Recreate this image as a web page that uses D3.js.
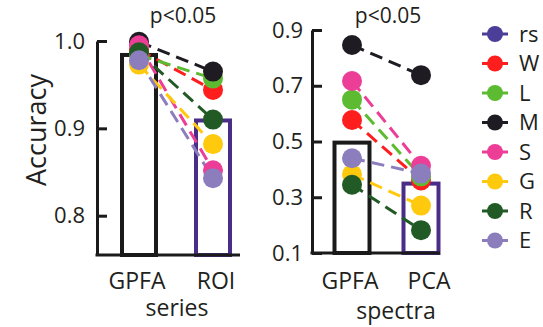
<!DOCTYPE html>
<html>
<head>
<meta charset="utf-8">
<script src="https://cdn.jsdelivr.net/npm/d3@7"></script>
<style>
  body { margin: 0; background: #fff; }
  text { font-family: "Open Sans", "DejaVu Sans", sans-serif; fill: #231f20; }
</style>
</head>
<body>
<div id="chart"></div>
<script>
// subjects, in legend order
var subjects = ['rs', 'W', 'L', 'M', 'S', 'G', 'R', 'E'];
var subjectColors = ['#4a3e98', '#ff1e1e', '#5cbb30', '#1f1b22', '#ec3d97', '#ffc90d', '#225a26', '#8c7ebd'];

// panel 1: series
var seriesMethods = ['GPFA', 'ROI'];
var seriesBars = [0.984, 0.909];
// per subject [GPFA, ROI]; rs not visible
var seriesValues = {
    W: [0.990, 0.944],
    L: [0.984, 0.957],
    M: [0.999, 0.965],
    S: [0.995, 0.852],
    G: [0.973, 0.882],
    R: [0.987, 0.910],
    E: [0.978, 0.843]
};
var seriesTicks = [0.8, 0.9, 1.0];

// panel 2: spectra
var spectraMethods = ['GPFA', 'PCA'];
var spectraBars = [0.496, 0.349];
var spectraValues = {
    W: [0.577, 0.360],
    L: [0.650, 0.375],
    M: [0.846, 0.738],
    S: [0.717, 0.413],
    G: [0.382, 0.270],
    R: [0.345, 0.182],
    E: [0.440, 0.385]
};
var spectraTicks = [0.1, 0.3, 0.5, 0.7, 0.9];

var barColors = ['#1a1a1a', '#4a2d87'];

var svg = d3.select('#chart').append('svg')
    .attr('width', 543)
    .attr('height', 327);

var color = d3.scaleOrdinal().domain(subjects).range(subjectColors);

function drawPanel(cfg) {

    var g = svg.append('g');

    var x = d3.scalePoint().domain(cfg.methods).range(cfg.xRange);
    var y = d3.scaleLinear().domain(cfg.domain).range(cfg.yRange);

    // bars
    g.selectAll('.bar').data(cfg.bars).enter().append('rect')
        .attr('x', function (d, i) { return x(cfg.methods[i]) - cfg.barWidth / 2; })
        .attr('y', function (d) { return y(d); })
        .attr('width', cfg.barWidth)
        .attr('height', function (d) { return cfg.yRange[0] - y(d); })
        .attr('fill', 'none')
        .attr('stroke', function (d, i) { return barColors[i]; })
        .attr('stroke-width', 4);

    // axis, ticks pointing inward
    var axis = d3.axisLeft(y)
        .tickValues(cfg.ticks)
        .tickFormat(d3.format('.1f'))
        .tickSizeInner(-10)
        .tickSizeOuter(0)
        .tickPadding(cfg.tickPad);

    var ax = g.append('g')
        .attr('transform', 'translate(' + cfg.axisX + ',0)')
        .call(axis);
    ax.selectAll('path, line').attr('stroke', '#1a1a1a').attr('stroke-width', 3);
    ax.selectAll('text')
        .style('font-size', '22px')
        .style('font-family', '"Open Sans", sans-serif')
        .attr('fill', '#231f20');

    // baseline
    g.append('line')
        .attr('x1', cfg.axisX - 1.5)
        .attr('x2', cfg.baseEnd)
        .attr('y1', cfg.yRange[0])
        .attr('y2', cfg.yRange[0])
        .attr('stroke', '#1a1a1a')
        .attr('stroke-width', 3);

    var present = subjects.filter(function (s) { return cfg.values[s]; });

    // dashed connecting lines
    g.selectAll('.conn').data(present).enter().append('line')
        .attr('x1', x(cfg.methods[0]))
        .attr('x2', x(cfg.methods[1]))
        .attr('y1', function (s) { return y(cfg.values[s][0]); })
        .attr('y2', function (s) { return y(cfg.values[s][1]); })
        .attr('stroke', function (s) { return color(s); })
        .attr('stroke-width', 3)
        .attr('stroke-dasharray', '13,7');

    // dots
    present.forEach(function (s) {
        g.selectAll(null).data(cfg.values[s]).enter().append('circle')
            .attr('cx', function (d, i) { return x(cfg.methods[i]); })
            .attr('cy', function (d) { return y(d); })
            .attr('r', 10)
            .attr('fill', color(s));
    });

    // labels
    g.append('text')
        .attr('x', cfg.pX)
        .attr('y', 23)
        .attr('text-anchor', 'middle')
        .style('font-size', '21px')
        .text('p<0.05');

    g.selectAll('.xl').data(cfg.methods).enter().append('text')
        .attr('x', function (d, i) { return x(d) + cfg.labelShift[i]; })
        .attr('y', 289)
        .attr('text-anchor', 'middle')
        .style('font-size', '23px')
        .text(function (d) { return d; });

    g.append('text')
        .attr('x', cfg.titleX)
        .attr('y', cfg.titleY)
        .attr('text-anchor', 'middle')
        .style('font-size', '23px')
        .text(cfg.title);
}

drawPanel({
    methods: seriesMethods,
    bars: seriesBars,
    values: seriesValues,
    ticks: seriesTicks,
    domain: [0.755, 1.0],
    yRange: [255, 41],
    xRange: [139, 213],
    barWidth: 34,
    axisX: 97,
    baseEnd: 240,
    tickPad: 12,
    pX: 183,
    labelShift: [-2, 3],
    title: 'series',
    titleX: 177,
    titleY: 316
});

drawPanel({
    methods: spectraMethods,
    bars: spectraBars,
    values: spectraValues,
    ticks: spectraTicks,
    domain: [0.1, 0.9],
    yRange: [253, 30],
    xRange: [352, 421],
    barWidth: 35,
    axisX: 312,
    baseEnd: 440,
    tickPad: 9,
    pX: 388,
    labelShift: [-2, 8],
    title: 'spectra',
    titleX: 396,
    titleY: 319
});

// y label
svg.append('text')
    .attr('transform', 'translate(46,130) rotate(-90)')
    .attr('text-anchor', 'middle')
    .style('font-size', '27px')
    .text('Accuracy');

// legend
var legend = svg.selectAll('.legend').data(subjects).enter().append('g')
    .attr('transform', function (d, i) { return 'translate(495,' + (34 + i * 29.5) + ')'; });

legend.append('line')
    .attr('x1', -13)
    .attr('x2', 13)
    .attr('stroke', function (d) { return color(d); })
    .attr('stroke-width', 3);

legend.append('circle')
    .attr('r', 8)
    .attr('fill', function (d) { return color(d); });

legend.append('text')
    .attr('x', 24)
    .attr('dy', '0.36em')
    .style('font-size', '22px')
    .text(function (d) { return d; });
</script>
</body>
</html>
